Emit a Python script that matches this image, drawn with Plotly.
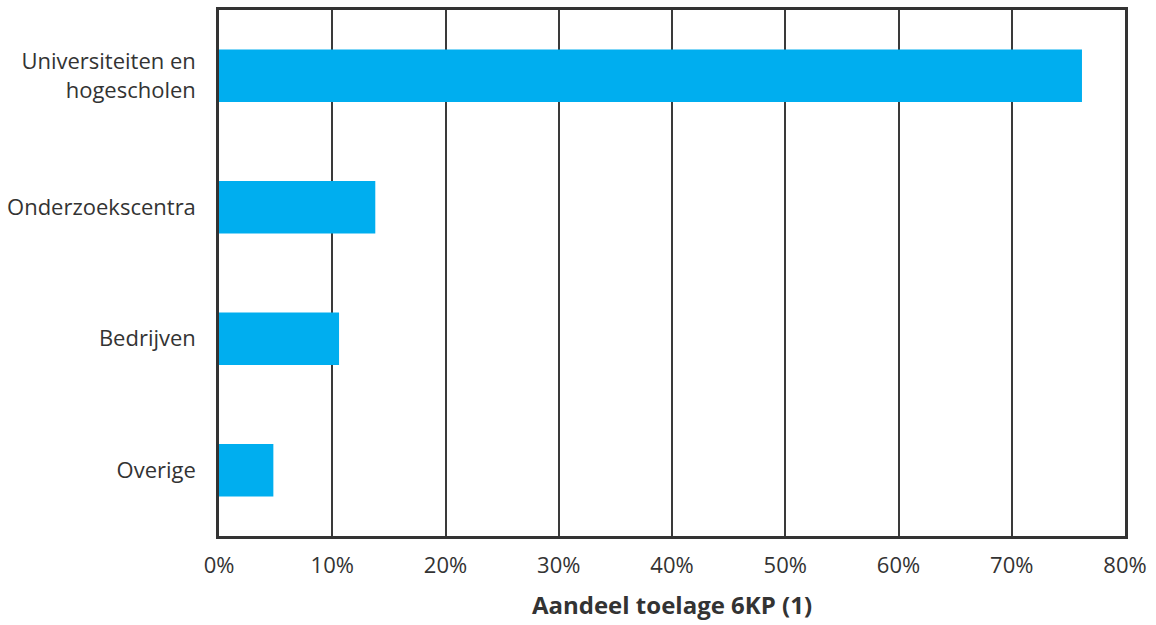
import plotly.graph_objects as go

categories = ["Universiteiten en<br>hogescholen", "Onderzoekscentra", "Bedrijven", "Overige"]
shares = [0.762, 0.138, 0.106, 0.048]
tick_values = [0, 0.1, 0.2, 0.3, 0.4, 0.5, 0.6, 0.7, 0.8]
tick_labels = ["0%", "10%", "20%", "30%", "40%", "50%", "60%", "70%", "80%"]

fig = go.Figure()
fig.add_trace(go.Bar(x=shares, y=categories, orientation="h",
                     marker=dict(color="#00AEEF", line=dict(width=0)),
                     width=0.4, hoverinfo="x+y"))

fig.update_layout(
    width=1156, height=625,
    margin=dict(l=218, r=31, t=7, b=89),
    paper_bgcolor="white", plot_bgcolor="white",
    font=dict(family="Open Sans", size=22, color="#333333"),
    showlegend=False,
    xaxis=dict(range=[0, 0.8], tickvals=tick_values, ticktext=tick_labels,
               showgrid=True, gridcolor="#3a3a3a", gridwidth=1.5,
               showline=True, linecolor="#333333", linewidth=2.5, mirror=True,
               ticks="", ticklabelstandoff=8, zeroline=False,
               title=dict(text="<b>Aandeel toelage 6KP (1)</b>", standoff=20,
                          font=dict(size=24, color="#333333"))),
    yaxis=dict(autorange="reversed", showgrid=False,
               showline=True, linecolor="#333333", linewidth=2.5, mirror=True,
               ticks="", ticklabelstandoff=16),
)

# drop the default page margin so the figure sits at the window's top-left
fig.write_html("out.html", config={"displayModeBar": False},
               post_script="document.body.style.margin='0';")
